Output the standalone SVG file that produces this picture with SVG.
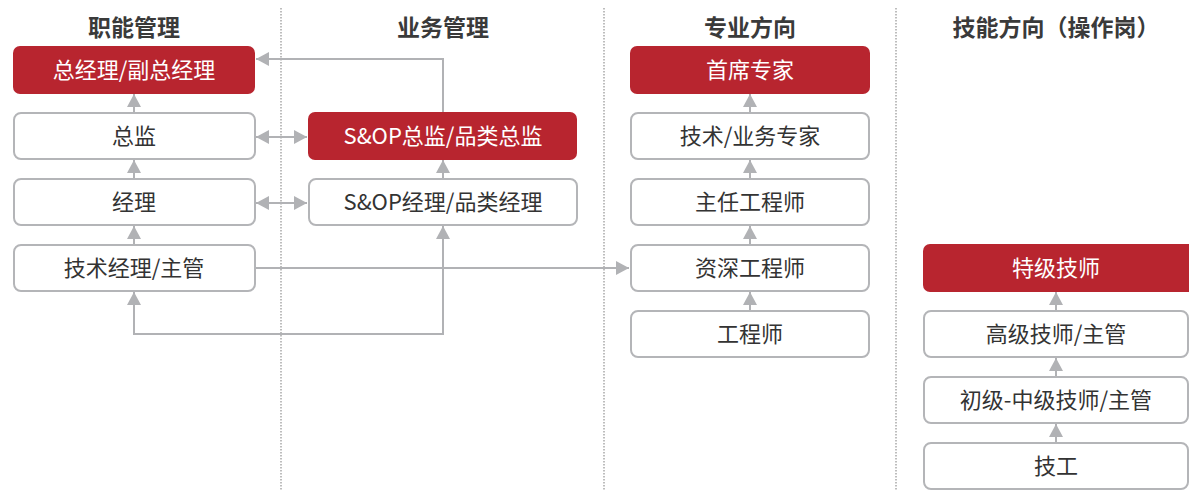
<svg xmlns="http://www.w3.org/2000/svg" width="1189" height="491" viewBox="0 0 1189 491">
<defs>
<style>
.hd{font-family:"Noto Sans CJK SC","Noto Sans",sans-serif;font-size:23px;font-weight:bold;fill:#3a3a3a;text-anchor:middle}
.tx{font-family:"Noto Sans CJK SC","Noto Sans",sans-serif;font-size:22px;fill:#333;text-anchor:middle}
.tw{font-family:"Noto Sans CJK SC","Noto Sans",sans-serif;font-size:22px;fill:#fff;text-anchor:middle}
.bw{fill:#fff;stroke:#b4b5b8;stroke-width:2}
.br{fill:#b8252f;stroke:none}
.dl{stroke:#a8a8a8;stroke-width:1.5;stroke-dasharray:1.5 1.5;fill:none}
.cn{stroke:#b1b2b5;stroke-width:2;fill:none;marker-end:url(#ah)}
.cb{stroke:#b1b2b5;stroke-width:2;fill:none;marker-end:url(#ah);marker-start:url(#ah)}
</style>
<marker id="ah" viewBox="0 0 13 14" refX="13" refY="7" markerWidth="13" markerHeight="14" markerUnits="userSpaceOnUse" orient="auto-start-reverse">
<path d="M0,0 L13,7 L0,14 Z" fill="#b1b2b5"/>
</marker>
</defs>
<rect width="1189" height="491" fill="#fff"/>
<g id="dividers">
<line class="dl" x1="281" y1="8" x2="281" y2="491"/>
<line class="dl" x1="604" y1="8" x2="604" y2="491"/>
<line class="dl" x1="896" y1="8" x2="896" y2="491"/>
</g>
<g id="headers">
<text class="hd" x="134" y="36">职能管理</text>
<text class="hd" x="443" y="36">业务管理</text>
<text class="hd" x="750" y="36">专业方向</text>
<text class="hd" x="1056" y="36">技能方向（操作岗）</text>
</g>
<g id="connectors">
<line class="cn" x1="134" y1="113" x2="134" y2="94"/>
<line class="cn" x1="134" y1="179" x2="134" y2="160"/>
<line class="cn" x1="134" y1="245" x2="134" y2="226"/>
<line class="cb" x1="256" y1="137" x2="307" y2="137"/>
<line class="cb" x1="256" y1="203" x2="307" y2="203"/>
<polyline class="cn" points="443,113 443,59 256,59"/>
<line class="cn" x1="443" y1="179" x2="443" y2="160"/>
<polyline class="cb" points="134,292 134,334 443,334 443,226"/>
<line class="cn" x1="256" y1="268" x2="629" y2="268"/>
<line class="cn" x1="750" y1="113" x2="750" y2="94"/>
<line class="cn" x1="750" y1="179" x2="750" y2="160"/>
<line class="cn" x1="750" y1="245" x2="750" y2="226"/>
<line class="cn" x1="750" y1="311" x2="750" y2="292"/>
<line class="cn" x1="1056" y1="311" x2="1056" y2="292"/>
<line class="cn" x1="1056" y1="377" x2="1056" y2="358"/>
<line class="cn" x1="1056" y1="443" x2="1056" y2="424"/>
</g>
<g id="n-gm"><rect class="br" x="13" y="46" width="242" height="48" rx="7"/><text class="tw" x="134" y="78">总经理/副总经理</text></g>
<g id="n-director"><rect class="bw" x="14" y="113" width="241" height="46" rx="7"/><text class="tx" x="134" y="144">总监</text></g>
<g id="n-manager"><rect class="bw" x="14" y="179" width="241" height="46" rx="7"/><text class="tx" x="134" y="210">经理</text></g>
<g id="n-techmgr"><rect class="bw" x="14" y="245" width="241" height="46" rx="7"/><text class="tx" x="134" y="276">技术经理/主管</text></g>
<g id="n-sopdir"><rect class="br" x="308" y="112" width="269" height="48" rx="7"/><text class="tw" x="443" y="144">S&amp;OP总监/品类总监</text></g>
<g id="n-sopmgr"><rect class="bw" x="309" y="179" width="268" height="46" rx="7"/><text class="tx" x="443" y="210">S&amp;OP经理/品类经理</text></g>
<g id="n-chief"><rect class="br" x="630" y="46" width="240" height="48" rx="7"/><text class="tw" x="750" y="78">首席专家</text></g>
<g id="n-expert"><rect class="bw" x="631" y="113" width="238" height="46" rx="7"/><text class="tx" x="750" y="144">技术/业务专家</text></g>
<g id="n-principal"><rect class="bw" x="631" y="179" width="238" height="46" rx="7"/><text class="tx" x="750" y="210">主任工程师</text></g>
<g id="n-senior"><rect class="bw" x="631" y="245" width="238" height="46" rx="7"/><text class="tx" x="750" y="276">资深工程师</text></g>
<g id="n-engineer"><rect class="bw" x="631" y="311" width="238" height="46" rx="7"/><text class="tx" x="750" y="342">工程师</text></g>
<g id="n-master"><rect class="br" x="923" y="244" width="272" height="48" rx="7"/><text class="tw" x="1056" y="276">特级技师</text></g>
<g id="n-sentech"><rect class="bw" x="924" y="311" width="264" height="46" rx="7"/><text class="tx" x="1056" y="342">高级技师/主管</text></g>
<g id="n-midtech"><rect class="bw" x="924" y="377" width="264" height="46" rx="7"/><text class="tx" x="1056" y="408">初级-中级技师/主管</text></g>
<g id="n-worker"><rect class="bw" x="924" y="443" width="264" height="46" rx="7"/><text class="tx" x="1056" y="474">技工</text></g>
</svg>
